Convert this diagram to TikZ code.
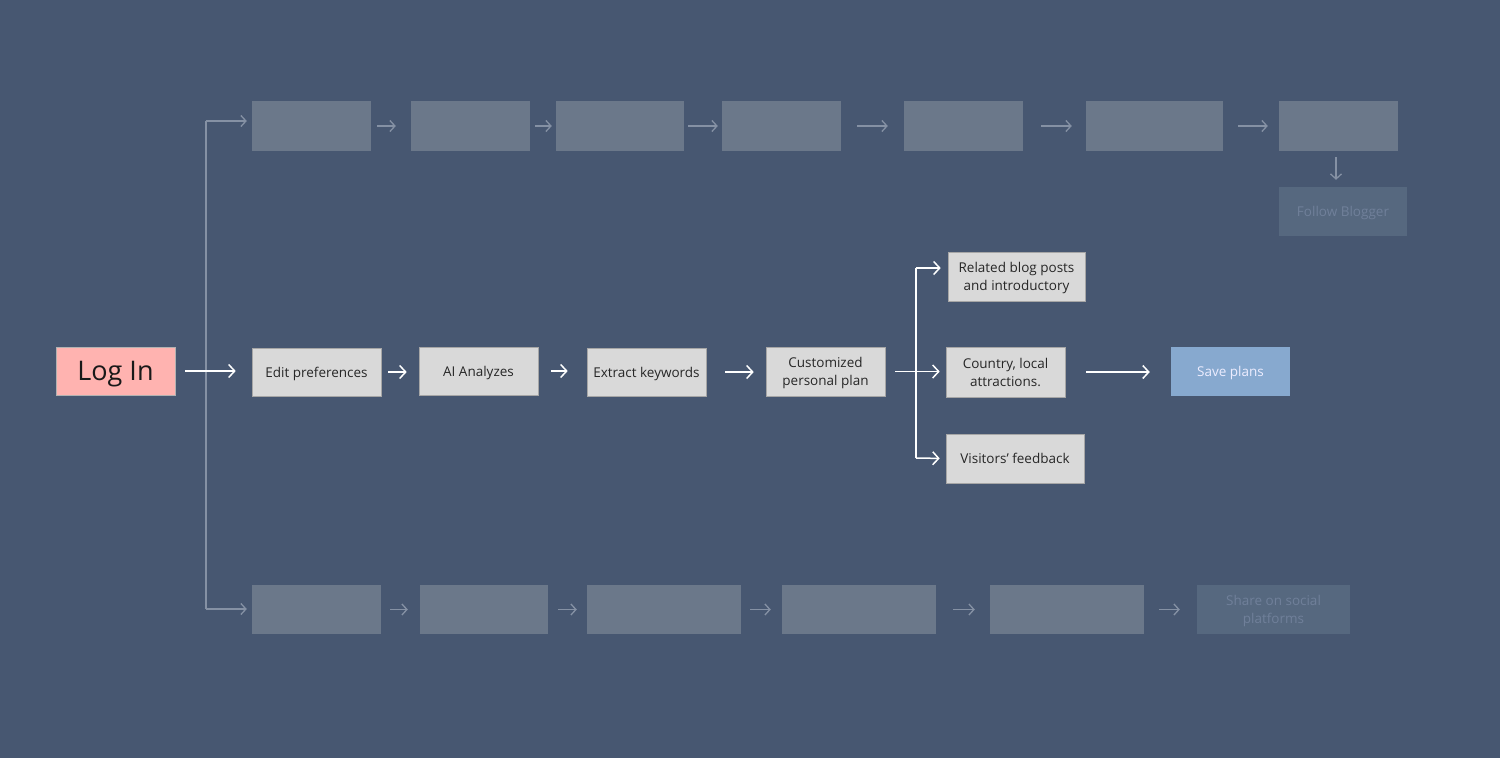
\documentclass[tikz,border=0pt]{standalone}
\usepackage{fontspec}
\setmainfont{Open Sans}
\usetikzlibrary{positioning}
\usetikzlibrary{arrows.meta}
\definecolor{bgcol}{HTML}{475771}
\definecolor{fadebox}{HTML}{6B788A}
\definecolor{ghostbox}{HTML}{56687F}
\definecolor{ghosttext}{HTML}{70809A}
\definecolor{fadeline}{HTML}{8591A4}
\definecolor{lightbox}{HTML}{D9D9D9}
\definecolor{pinkbox}{HTML}{FFB3B0}
\definecolor{bluebox}{HTML}{87A9CF}
\tikzset{
    >=Stealth,
    box/.style={inner sep=0pt, align=center, text depth=0pt, font=\fontsize{13.5}{18}\selectfont},
    mainbox/.style={box, fill=lightbox, draw=gray!70, line width=0.6pt, text=black!85},
    greybox/.style={box, fill=fadebox},
    ghost/.style={box, fill=ghostbox, text=ghosttext},
    warrow/.style={draw=white, line width=1.5pt, -{Straight Barb[length=6pt, width=13pt, line width=1.5pt]}},
    farrow/.style={draw=fadeline, line width=1.3pt, -{Straight Barb[length=5pt, width=11pt, line width=1.3pt]}},
}

\begin{document}
\begin{tikzpicture}[x=1pt, y=-1pt]
  \fill[bgcol] (0,0) rectangle (1500,758);
  \useasboundingbox (0,0) rectangle (1500,758);

  % top row
  \node[greybox, minimum width=119pt, minimum height=50pt] (t1) at (311.5,126) {};
  \node[greybox, minimum width=119pt, minimum height=50pt] (t2) at (470.5,126) {};
  \node[greybox, minimum width=128pt, minimum height=50pt] (t3) at (620,126) {};
  \node[greybox, minimum width=119pt, minimum height=50pt] (t4) at (781.5,126) {};
  \node[greybox, minimum width=119pt, minimum height=50pt] (t5) at (963.5,126) {};
  \node[greybox, minimum width=137pt, minimum height=50pt] (t6) at (1154.5,126) {};
  \node[greybox, minimum width=119pt, minimum height=50pt] (t7) at (1338.5,126) {};
  \node[ghost, minimum width=128pt, minimum height=49pt] (follow) at (1343,211.5) {Follow Blogger};

  % middle row
  \node[box, fill=pinkbox, draw=gray!60, line width=0.6pt, text=black!90,
        minimum width=119pt, minimum height=48pt, font=\fontsize{27}{30}\selectfont] (login) at (115.5,371) {Log In};
  \node[mainbox, minimum width=129pt, minimum height=48pt] (edit) at (316.5,372) {Edit preferences};
  \node[mainbox, minimum width=119pt, minimum height=48pt] (ai) at (478.5,371) {AI Analyzes};
  \node[mainbox, minimum width=119pt, minimum height=48pt] (extract) at (646.5,372) {Extract keywords};
  \node[mainbox, minimum width=119pt, minimum height=49pt] (plan) at (825.5,371.5) {Customized\\personal plan};
  \node[mainbox, minimum width=137pt, minimum height=49pt] (related) at (1016.5,276.5) {Related blog posts\\and introductory};
  \node[mainbox, minimum width=119pt, minimum height=50pt] (country) at (1005.5,372) {Country, local\\attractions.};
  \node[mainbox, minimum width=138pt, minimum height=49pt] (visitors) at (1015,458.5) {Visitors' feedback};
  \node[box, fill=bluebox, text=white!93!blue, minimum width=119pt, minimum height=49pt] (save) at (1230.5,371.5) {Save plans};

  % bottom row
  \node[greybox, minimum width=129pt, minimum height=49pt] (b1) at (316.5,609.5) {};
  \node[greybox, minimum width=128pt, minimum height=49pt] (b2) at (484,609.5) {};
  \node[greybox, minimum width=154pt, minimum height=49pt] (b3) at (664,609.5) {};
  \node[greybox, minimum width=154pt, minimum height=49pt] (b4) at (859,609.5) {};
  \node[greybox, minimum width=154pt, minimum height=49pt] (b5) at (1067,609.5) {};
  \node[ghost, minimum width=153pt, minimum height=49pt] (share) at (1273.5,609.5) {Share on social\\platforms};

  % trunk from log in
  \coordinate (trunk) at (206,373);
  \coordinate (fork) at (916,372);
  \draw[fadeline, line width=1.3pt] (trunk |- 0,121) -- (trunk |- 0,609);
  \draw[farrow, shorten >=5pt] (trunk |- 0,121) -- ([yshift=5pt]t1.west);
  \draw[farrow, shorten >=5pt] (trunk |- 0,609) -- (trunk |- 0,609 -| b1.west);

  % faded arrows
  \foreach \a/\b/\s/\e in {t1/t2/6/15, t2/t3/5/4, t3/t4/4/4, t4/t5/16/16, t5/t6/18/14, t6/t7/15/11,
                           b1/b2/9/12, b2/b3/10/10, b3/b4/9/11, b4/b5/17/15, b5/share/15/17}
    \draw[farrow, shorten <=\s pt, shorten >=\e pt] (\a.east) -- (\a.east -| \b.west);
  \draw[farrow, shorten <=6pt, shorten >=7pt] ([xshift=-2.5pt]t7.south) -- ([xshift=-2.5pt]t7.south |- follow.north);

  % main arrows
  \foreach \a/\b/\s/\e in {login/edit/10/16, edit/ai/7/12, ai/extract/13/19, extract/plan/19/12, country/save/21/21}
    \draw[warrow, shorten <=\s pt, shorten >=\e pt] (\a.east) -- (\a.east -| \b.west);
  \draw[warrow, shorten <=10pt, shorten >=6pt] (plan.east) -- (plan.east -| country.west);
  \draw[white, line width=1.5pt] (fork |- 0,268) -- (fork |- 0,458);
  \draw[warrow, shorten >=7pt] (fork |- 0,268) -- ([yshift=8.5pt]related.west);
  \draw[warrow, shorten >=6pt] (fork |- 0,458) -- (visitors.west);
\end{tikzpicture}
\end{document}
